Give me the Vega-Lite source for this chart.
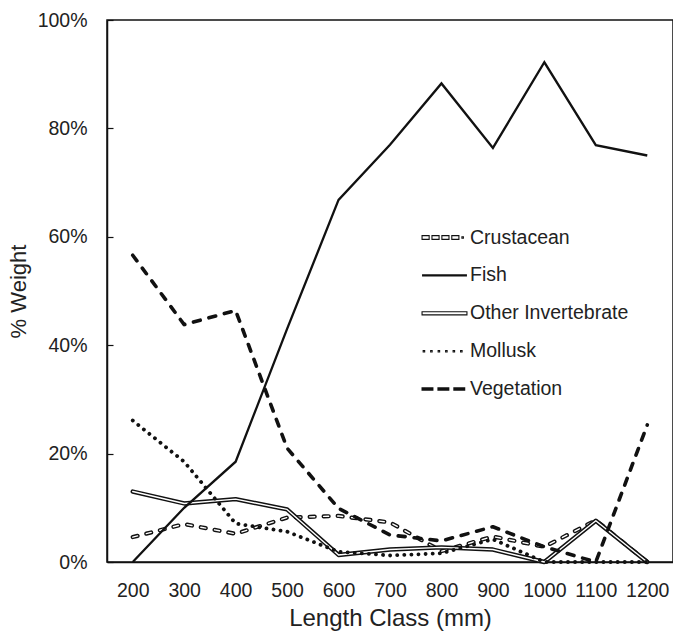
{
  "$schema": "https://vega.github.io/schema/vega-lite/v6.json",
  "width": 566,
  "height": 542,
  "autosize": {"type": "none"},
  "padding": {"left": 107, "top": 20, "right": 0, "bottom": 70},
  "background": "white",
  "config": {
    "font": "Liberation Sans",
    "view": {"stroke": "#111", "strokeWidth": 1.5},
    "axis": {"grid": false, "domainColor": "#111", "domainWidth": 1.5, "labelColor": "#222", "titleColor": "#222", "labelFontSize": 19.5, "titleFontSize": 22, "titleFontWeight": "normal", "tickColor": "#111", "tickWidth": 1.2}
  },
  "data": {"values": [
    {"length": 200, "series": "Crustacean", "pct": 4.6},
    {"length": 300, "series": "Crustacean", "pct": 7.0},
    {"length": 400, "series": "Crustacean", "pct": 5.2},
    {"length": 500, "series": "Crustacean", "pct": 8.2},
    {"length": 600, "series": "Crustacean", "pct": 8.5},
    {"length": 700, "series": "Crustacean", "pct": 7.3},
    {"length": 800, "series": "Crustacean", "pct": 2.0},
    {"length": 900, "series": "Crustacean", "pct": 4.7},
    {"length": 1000, "series": "Crustacean", "pct": 2.8},
    {"length": 1100, "series": "Crustacean", "pct": 7.7},
    {"length": 1200, "series": "Crustacean", "pct": 0},
    {"length": 200, "series": "Fish", "pct": 0},
    {"length": 300, "series": "Fish", "pct": 10},
    {"length": 400, "series": "Fish", "pct": 18.5},
    {"length": 500, "series": "Fish", "pct": 43},
    {"length": 600, "series": "Fish", "pct": 66.8},
    {"length": 700, "series": "Fish", "pct": 77},
    {"length": 800, "series": "Fish", "pct": 88.3},
    {"length": 900, "series": "Fish", "pct": 76.4},
    {"length": 1000, "series": "Fish", "pct": 92.2},
    {"length": 1100, "series": "Fish", "pct": 76.9},
    {"length": 1200, "series": "Fish", "pct": 75.0},
    {"length": 200, "series": "Other Invertebrate", "pct": 13.0},
    {"length": 300, "series": "Other Invertebrate", "pct": 10.8},
    {"length": 400, "series": "Other Invertebrate", "pct": 11.6},
    {"length": 500, "series": "Other Invertebrate", "pct": 9.7},
    {"length": 600, "series": "Other Invertebrate", "pct": 1.3},
    {"length": 700, "series": "Other Invertebrate", "pct": 2.3},
    {"length": 800, "series": "Other Invertebrate", "pct": 2.7},
    {"length": 900, "series": "Other Invertebrate", "pct": 2.3},
    {"length": 1000, "series": "Other Invertebrate", "pct": 0},
    {"length": 1100, "series": "Other Invertebrate", "pct": 7.6},
    {"length": 1200, "series": "Other Invertebrate", "pct": 0},
    {"length": 200, "series": "Mollusk", "pct": 26.1},
    {"length": 300, "series": "Mollusk", "pct": 18.5},
    {"length": 400, "series": "Mollusk", "pct": 7.1},
    {"length": 500, "series": "Mollusk", "pct": 5.6},
    {"length": 600, "series": "Mollusk", "pct": 1.9},
    {"length": 700, "series": "Mollusk", "pct": 1.2},
    {"length": 800, "series": "Mollusk", "pct": 1.6},
    {"length": 900, "series": "Mollusk", "pct": 4.2},
    {"length": 1000, "series": "Mollusk", "pct": 0},
    {"length": 1100, "series": "Mollusk", "pct": 0},
    {"length": 1200, "series": "Mollusk", "pct": 0},
    {"length": 200, "series": "Vegetation", "pct": 56.6},
    {"length": 300, "series": "Vegetation", "pct": 43.8},
    {"length": 400, "series": "Vegetation", "pct": 46.4},
    {"length": 500, "series": "Vegetation", "pct": 21},
    {"length": 600, "series": "Vegetation", "pct": 9.9},
    {"length": 700, "series": "Vegetation", "pct": 5},
    {"length": 800, "series": "Vegetation", "pct": 3.9},
    {"length": 900, "series": "Vegetation", "pct": 6.5},
    {"length": 1000, "series": "Vegetation", "pct": 2.8},
    {"length": 1100, "series": "Vegetation", "pct": 0},
    {"length": 1200, "series": "Vegetation", "pct": 25.3}
  ]},
  "encoding": {
    "x": {"field": "length", "type": "ordinal", "scale": {"type": "point", "padding": 0.5},
      "axis": {"title": "Length Class (mm)", "titleFontSize": 24, "labelAngle": 0, "ticks": false, "labelPadding": 19, "titlePadding": 7}},
    "y": {"field": "pct", "type": "quantitative", "scale": {"domain": [0, 100]},
      "axis": {"title": "% Weight", "values": [0, 20, 40, 60, 80, 100], "labelExpr": "datum.value + '%'", "tickSize": -6, "labelPadding": 26, "titlePadding": 7}}
  },
  "layer": [
    {
      "transform": [{"filter": {"field": "series", "equal": "Crustacean"}}],
      "mark": {"type": "line", "color": "#111", "strokeWidth": 4.2, "strokeDash": [5, 9], "strokeCap": "round", "strokeJoin": "round"}
    },
    {
      "transform": [{"filter": {"field": "series", "equal": "Crustacean"}}],
      "mark": {"type": "line", "color": "white", "strokeWidth": 1.4, "strokeDash": [5, 9], "strokeCap": "round", "strokeJoin": "round"}
    },
    {
      "transform": [{"filter": {"field": "series", "equal": "Other Invertebrate"}}],
      "mark": {"type": "line", "color": "#111", "strokeWidth": 4.4, "strokeCap": "round", "strokeJoin": "round"}
    },
    {
      "transform": [{"filter": {"field": "series", "equal": "Other Invertebrate"}}],
      "mark": {"type": "line", "color": "white", "strokeWidth": 1.4, "strokeCap": "round", "strokeJoin": "round"}
    },
    {
      "transform": [{"filter": {"field": "series", "equal": "Mollusk"}}],
      "mark": {"type": "line", "color": "#111", "strokeWidth": 3.8, "strokeDash": [0.1, 7], "strokeCap": "round", "strokeJoin": "round"}
    },
    {
      "transform": [{"filter": {"field": "series", "equal": "Fish"}}],
      "mark": {"type": "line", "color": "#111", "strokeWidth": 2.3, "strokeJoin": "miter"}
    },
    {
      "transform": [{"filter": {"field": "series", "equal": "Vegetation"}}],
      "mark": {"type": "line", "color": "#111", "strokeWidth": 3.6, "strokeDash": [7, 9], "strokeCap": "round", "strokeJoin": "round"}
    },
    {
      "mark": {"type": "point", "filled": false, "opacity": 0, "color": "#111", "strokeWidth": 1.1},
      "encoding": {
        "shape": {"field": "series", "type": "nominal",
          "scale": {"domain": ["Crustacean", "Fish", "Other Invertebrate", "Mollusk", "Vegetation"],
            "range": [
              "M-1.2,-0.1H-0.82V0.1H-1.2Z M-0.67,-0.1H-0.29V0.1H-0.67Z M-0.14,-0.1H0.24V0.1H-0.14Z M0.39,-0.1H0.77V0.1H0.39Z M0.93,-0.04H1.01V0.04H0.93Z",
              "M-1.2,-0.027H1.2M-1.2,0.027H1.2",
              "M-1.2,-0.085H1.2V0.085H-1.2Z",
              "M-1.14,-0.04H-1.06V0.04H-1.14Z M-0.74,-0.04H-0.66V0.04H-0.74Z M-0.34,-0.04H-0.26V0.04H-0.34Z M0.06,-0.04H0.14V0.04H0.06Z M0.46,-0.04H0.54V0.04H0.46Z M0.86,-0.04H0.94V0.04H0.86Z",
              "M-1.2,-0.065H-0.62V0.065H-1.2Z M-1.2,0H-0.62 M-0.35,-0.065H0.23V0.065H-0.35Z M-0.35,0H0.23 M0.5,-0.065H1.08V0.065H0.5Z M0.5,0H1.08"
            ]},
          "legend": {
            "title": null, "orient": "none", "legendX": 318, "legendY": 198,
            "symbolSize": 1400, "symbolStrokeWidth": 1.1, "symbolOpacity": 1, "symbolStrokeColor": "#111", "symbolFillColor": "transparent",
            "rowPadding": 8.9, "labelOffset": 6,
            "labelFontSize": 19.5, "labelColor": "#222", "labelFont": "Liberation Sans"
          }}
      }
    }
  ]
}
